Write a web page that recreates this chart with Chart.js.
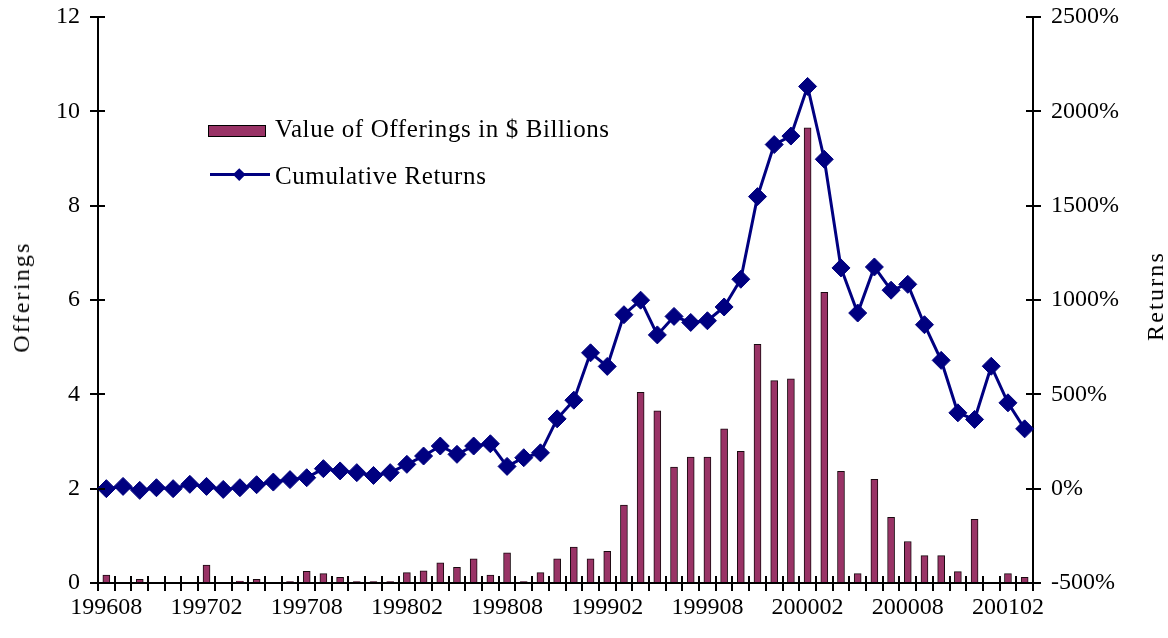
<!DOCTYPE html>
<html>
<head>
<meta charset="utf-8">
<script src="https://cdn.jsdelivr.net/npm/chart.js@4.4.1/dist/chart.umd.min.js"></script>
<style>
  html, body { margin: 0; padding: 0; background: #fff; }
  #wrap { position: relative; width: 1168px; height: 638px; overflow: hidden; }
  #c { position: absolute; left: 0; top: 0; }
  .txt { position: absolute; font-family: "Liberation Serif", "Times New Roman", serif; color: #000; white-space: nowrap; }
  .leg { font-size: 25px; line-height: 25px; letter-spacing: 0.6px; }
  .atitle { font-size: 24px; line-height: 24px; letter-spacing: 2.2px; transform: translate(-50%, -50%) rotate(-90deg); }
  #swatch { position: absolute; left: 208px; top: 125px; width: 56px; height: 10px; background: #993366; border: 1.5px solid #000; }
  #legline { position: absolute; left: 210px; top: 172.5px; width: 60px; height: 3px; background: #000080; }
  #legdia { position: absolute; left: 235px; top: 170px; width: 8.5px; height: 8.5px; background: #000080; transform: rotate(45deg); }
</style>
</head>
<body>
<div id="wrap">
  <canvas id="c" width="1168" height="638"></canvas>
  <div id="swatch"></div>
  <div class="txt leg" style="left:275px; top:116px;">Value of Offerings in $ Billions</div>
  <div id="legline"></div>
  <div id="legdia"></div>
  <div class="txt leg" style="left:275px; top:163px;">Cumulative Returns</div>
  <div class="txt atitle" style="left:21px; top:297px;">Offerings</div>
  <div class="txt atitle" style="left:1155px; top:296px;">Returns</div>
</div>
<script>
// ---- data ----
const months = [
  '199608','199609','199610','199611','199612','199701','199702','199703','199704','199705',
  '199706','199707','199708','199709','199710','199711','199712','199801','199802','199803',
  '199804','199805','199806','199807','199808','199809','199810','199811','199812','199901',
  '199902','199903','199904','199905','199906','199907','199908','199909','199910','199911',
  '199912','200001','200002','200003','200004','200005','200006','200007','200008','200009',
  '200010','200011','200012','200101','200102','200103'
];
const offerings = [
  0.17, 0, 0.08, 0, 0, 0, 0.38, 0, 0.04, 0.08,
  0, 0.03, 0.25, 0.20, 0.12, 0.03, 0.03, 0.03, 0.22, 0.26,
  0.43, 0.33, 0.51, 0.17, 0.64, 0.03, 0.22, 0.51, 0.76, 0.51,
  0.67, 1.65, 4.04, 3.65, 2.46, 2.67, 2.67, 3.27, 2.79, 5.06,
  4.29, 4.33, 9.65, 6.16, 2.37, 0.20, 2.20, 1.39, 0.88, 0.58,
  0.58, 0.24, 1.35, 0, 0.20, 0.12
];
const cumulativeReturns = [
  0, 12, -9, 5, 0, 23, 12, -4, 5, 21,
  35, 48, 58, 106, 94, 85, 70, 85, 129, 173,
  226, 182, 226, 238, 118, 164, 190, 370, 469, 720,
  648, 922, 999, 815, 913, 881, 890, 963, 1110, 1548,
  1824, 1869, 2132, 1746, 1170, 931, 1175, 1052, 1083, 869,
  680, 402, 367, 649, 455, 317
];
const labelEvery = 6;
const offeringsTicks = { min: 0, max: 12, step: 2 };
const returnsTicks = { min: -500, max: 2500, step: 500 };

const tickFont = { family: '"Liberation Serif", "Times New Roman", serif', size: 24 };

const crossTicks = {
  id: 'crossTicks',
  afterDraw(chart) {
    const ctx = chart.ctx;
    const ca = chart.chartArea;
    const L = 7;
    ctx.save();
    ctx.strokeStyle = '#000';
    ctx.lineWidth = 2;
    ctx.beginPath();
    const xs = chart.scales.x;
    for (let i = 0; i <= months.length; i++) {
      const px = Math.round(xs.getPixelForValue(i - 0.5));
      ctx.moveTo(px, ca.bottom);
      ctx.lineTo(px, ca.bottom - L);
    }
    const ys = chart.scales.y;
    ys.ticks.forEach(t => {
      const py = Math.round(ys.getPixelForValue(t.value));
      ctx.moveTo(ca.left, py);
      ctx.lineTo(ca.left + L, py);
    });
    const y2 = chart.scales.y2;
    y2.ticks.forEach(t => {
      const py = Math.round(y2.getPixelForValue(t.value));
      ctx.moveTo(ca.right, py);
      ctx.lineTo(ca.right - L, py);
    });
    ctx.stroke();
    ctx.restore();
  }
};

new Chart(document.getElementById('c'), {
  type: 'bar',
  data: {
    labels: months,
    datasets: [
      {
        type: 'line',
        label: 'Cumulative Returns',
        data: cumulativeReturns,
        yAxisID: 'y2',
        borderColor: '#000080',
        backgroundColor: '#000080',
        borderWidth: 3,
        tension: 0,
        pointStyle: 'rectRot',
        pointRadius: 9,
        pointBorderWidth: 1,
        pointBorderColor: '#000080',
        pointBackgroundColor: '#000080',
        order: 0,
        clip: false
      },
      {
        type: 'bar',
        label: 'Value of Offerings in $ Billions',
        data: offerings,
        yAxisID: 'y',
        backgroundColor: '#993366',
        borderColor: '#1a0a10',
        borderWidth: 1,
        barThickness: 7,
        order: 1
      }
    ]
  },
  options: {
    responsive: false,
    animation: false,
    devicePixelRatio: 1,
    layout: { padding: { top: 17, left: 0, right: 0, bottom: 0 } },
    plugins: { legend: { display: false }, tooltip: { enabled: false }, title: { display: false } },
    scales: {
      x: {
        type: 'category',
        offset: true,
        grid: { offset: true, drawOnChartArea: false, drawTicks: true, tickLength: 8, color: '#000', lineWidth: 2 },
        border: { display: true, color: '#000', width: 2 },
        ticks: {
          autoSkip: false, maxRotation: 0, minRotation: 0, padding: 2,
          color: '#000', font: tickFont,
          callback: (v, i) => (i % labelEvery === 0 ? months[i] : '')
        },
        afterFit: s => { s.height = 55; }
      },
      y: {
        position: 'left',
        min: offeringsTicks.min, max: offeringsTicks.max,
        grid: { drawOnChartArea: false, drawTicks: true, tickLength: 8, color: '#000', lineWidth: 2 },
        border: { display: true, color: '#000', width: 2 },
        ticks: { stepSize: offeringsTicks.step, padding: 10, color: '#000', font: tickFont },
        afterFit: s => { s.width = 98; s.paddingTop = 0; s.paddingBottom = 0; }
      },
      y2: {
        position: 'right',
        min: returnsTicks.min, max: returnsTicks.max,
        grid: { drawOnChartArea: false, drawTicks: true, tickLength: 8, color: '#000', lineWidth: 2 },
        border: { display: true, color: '#000', width: 2 },
        ticks: { stepSize: returnsTicks.step, padding: 10, color: '#000', font: tickFont, callback: v => v + '%' },
        afterFit: s => { s.width = 135; s.paddingTop = 0; s.paddingBottom = 0; }
      }
    }
  },
  plugins: [crossTicks]
});
</script>
</body>
</html>
